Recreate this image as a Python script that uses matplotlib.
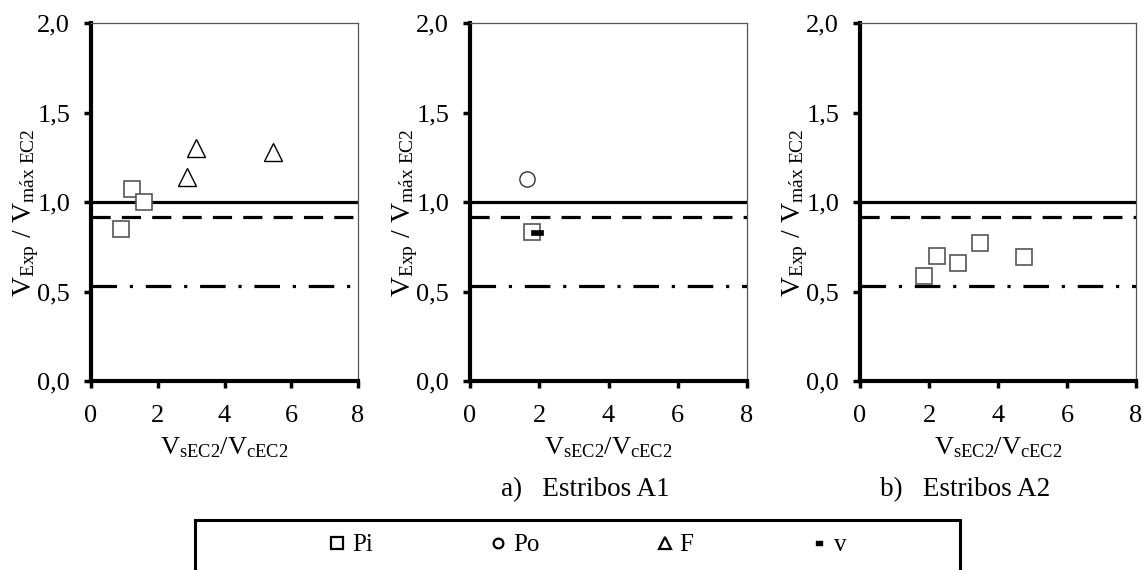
import matplotlib
matplotlib.use("Agg")
import matplotlib.pyplot as plt
from matplotlib.path import Path
from matplotlib.lines import Line2D
from matplotlib.patches import Rectangle

plt.rcParams['font.family'] = ['Liberation Serif', 'DejaVu Serif']
plt.rcParams['mathtext.fontset'] = 'custom'
plt.rcParams['mathtext.rm'] = 'Liberation Serif'
plt.rcParams['mathtext.it'] = 'Liberation Serif'

# Panel 1: series Pi and F
p1_pi_x = [0.90, 1.23, 1.59]
p1_pi_y = [0.85, 1.075, 1.00]
p1_f_x = [2.89, 3.16, 5.45]
p1_f_y = [1.14, 1.30, 1.28]

# Panel 2 (a): Po, Pi, v
p2_po_x = [1.64]
p2_po_y = [1.13]
p2_pi_x = [1.79]
p2_pi_y = [0.83]
p2_v_x = [1.94]
p2_v_y = [0.83]

# Panel 3 (b): Pi
p3_pi_x = [1.86, 2.23, 2.84, 3.48, 4.75]
p3_pi_y = [0.585, 0.70, 0.66, 0.77, 0.69]

# Reference lines
ref_solid = 1.0
ref_dashed = 0.915
ref_dashdot = 0.53

x_ticks = [0, 2, 4, 6, 8]
y_ticks = [0.0, 0.5, 1.0, 1.5, 2.0]
y_ticklabels = ['0,0', '0,5', '1,0', '1,5', '2,0']
captions = ['', 'a)   Estribos A1', 'b)   Estribos A2']
legend_labels = ['Pi', 'Po', 'F', 'v']

bar_marker = Path([(-1, -0.45), (1, -0.45), (1, 0.45), (-1, 0.45), (-1, -0.45)],
                  [Path.MOVETO, Path.LINETO, Path.LINETO, Path.LINETO, Path.CLOSEPOLY])

style_pi = dict(marker='s', ms=11, mfc='white', mec='#555555', mew=1.2, ls='none')
style_po = dict(marker='o', ms=11, mfc='white', mec='#333333', mew=1.0, ls='none')
style_f = dict(marker='^', ms=13, mfc='white', mec='black', mew=1.0, ls='none')
style_v = dict(marker=bar_marker, ms=8, mfc='black', mec='black', mew=0.5, ls='none')

fig = plt.figure(figsize=(11.46, 5.70), dpi=100)

W, H = 1146, 570
panels = [(91, 267), (470, 277), (860, 276)]
ax_bottom_px, ax_top_px = 381, 23

axes = []
for (lx, w) in panels:
    ax = fig.add_axes([lx / W, (H - ax_bottom_px) / H, w / W, (ax_bottom_px - ax_top_px) / H])
    axes.append(ax)

for i, ax in enumerate(axes):
    ax.set_xlim(0, 8)
    ax.set_ylim(0, 2.0)
    ax.axhline(ref_solid, color='black', lw=2.3, zorder=2)
    ax.axhline(ref_dashed, color='black', lw=2.3, dashes=(6, 3.5), zorder=2)
    ax.axhline(ref_dashdot, color='black', lw=2.3, dashes=(8, 4, 1, 4), zorder=2)
    ax.set_xticks(x_ticks)
    ax.set_xticklabels([str(t) for t in x_ticks], fontsize=19)
    ax.set_yticks(y_ticks)
    ax.set_yticklabels(y_ticklabels, fontsize=19)
    ax.tick_params(axis='both', direction='out', length=5, width=2.5, color='black')
    ax.tick_params(axis='y', pad=10)
    ax.tick_params(axis='x', pad=12)
    for s in ['left', 'bottom']:
        ax.spines[s].set_linewidth(3.0)
        ax.spines[s].set_color('black')
    for s in ['top', 'right']:
        ax.spines[s].set_linewidth(0.9)
        ax.spines[s].set_color('#555555')
    ax.set_xlabel(r'$\mathrm{V_{sEC2}/V_{cEC2}}$', fontsize=19, labelpad=6)
    ax.set_ylabel(r'$\mathrm{V_{Exp}\ /\ V_{m\acute{a}x\ EC2}}$', fontsize=20)
    ax.yaxis.set_label_coords(-20 / ax.bbox.width * (W / W), 0.47)
    ax.patch.set_visible(False)

# place y labels by pixel offset from each left spine
for ax, (lx, w) in zip(axes, panels):
    ax.yaxis.set_label_coords(-50 / w, 0.47)

axes[0].plot(p1_pi_x, p1_pi_y, **style_pi, zorder=3)
axes[0].plot(p1_f_x, p1_f_y, **style_f, zorder=3)
axes[1].plot(p2_po_x, p2_po_y, **style_po, zorder=3)
axes[1].plot(p2_pi_x, p2_pi_y, **style_pi, zorder=3)
axes[1].plot(p2_v_x, p2_v_y, **style_v, zorder=4)
axes[2].plot(p3_pi_x, p3_pi_y, **style_pi, zorder=3)

fig.text(585 / W, 1 - 490 / H, captions[1], fontsize=19.5, ha='center', va='center')
fig.text(965 / W, 1 - 490 / H, captions[2], fontsize=19.5, ha='center', va='center')

# Legend box
box = Rectangle((195 / W, -0.05), (960 - 195) / W, (H - 520) / H + 0.05,
                transform=fig.transFigure, fill=False, edgecolor='black', lw=2.2)
fig.add_artist(box)

handles = [
    Line2D([], [], marker='s', ms=8, mfc='white', mec='black', mew=1.6, ls='none'),
    Line2D([], [], marker='o', ms=7, mfc='white', mec='black', mew=1.6, ls='none'),
    Line2D([], [], marker='^', ms=8, mfc='white', mec='black', mew=1.6, ls='none'),
    Line2D([], [], marker=bar_marker, ms=5, mfc='black', mec='black', ls='none'),
]
fig.legend(handles, legend_labels, loc='center', bbox_to_anchor=(588 / W, 1 - 545 / H),
           ncol=4, frameon=False, fontsize=18, handlelength=0.6, handletextpad=0.3,
           columnspacing=4.7)

fig.savefig('out.png', dpi=100)
